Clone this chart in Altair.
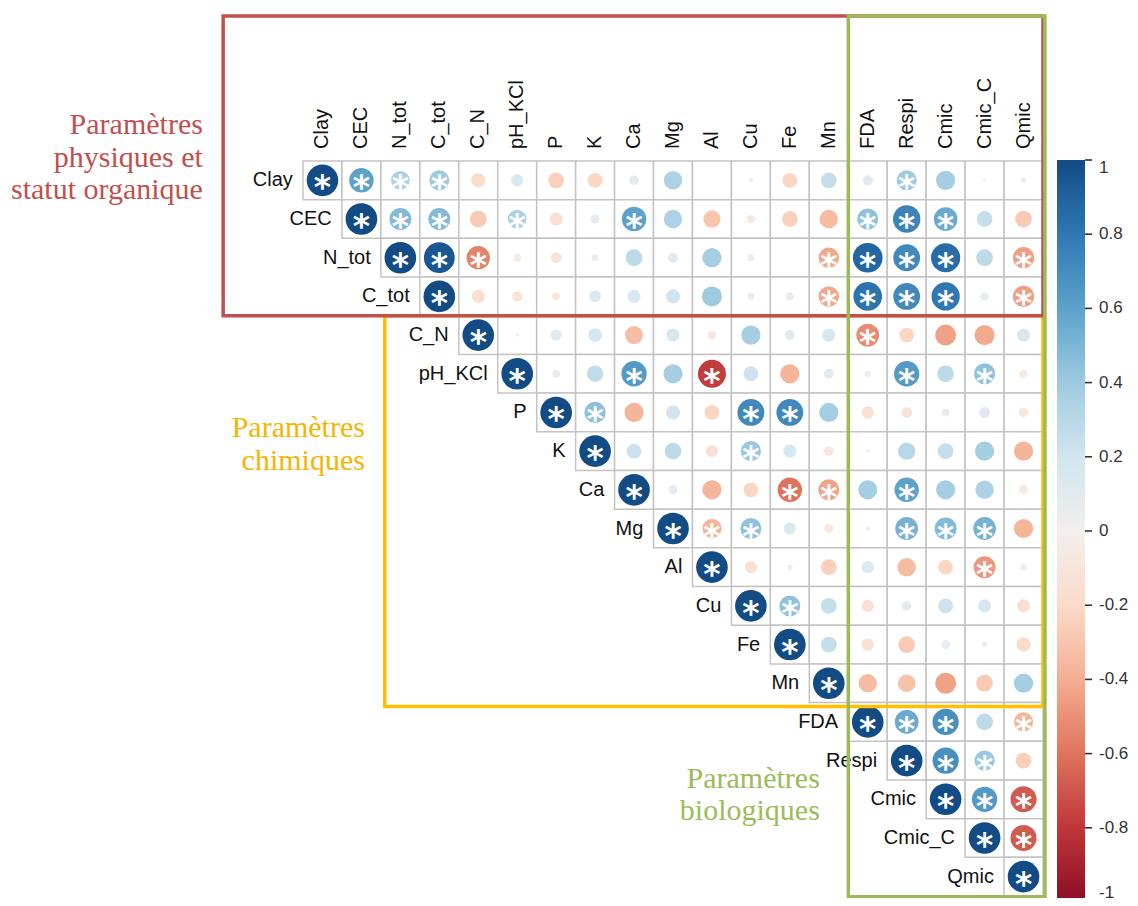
import altair as alt
import pandas as pd

names = ["Clay", "CEC", "N_tot", "C_tot", "C_N", "pH_KCl", "P", "K", "Ca", "Mg",
         "Al", "Cu", "Fe", "Mn", "FDA", "Respi", "Cmic", "Cmic_C", "Qmic"]

# Upper-triangle correlations: for each row, the values of the columns to the right of the diagonal
r_clay = [0.60, 0.35, 0.40, -0.20, 0.15, -0.25, -0.22, 0.09, 0.34, 0.00, 0.02, -0.22, 0.25, 0.11, 0.40, 0.37, 0.01, -0.03]
r_cec = [0.48, 0.48, -0.28, 0.35, -0.17, 0.08, 0.60, 0.34, -0.30, -0.07, -0.25, -0.34, 0.44, 0.75, 0.56, 0.25, -0.28]
r_ntot = [0.95, -0.55, -0.06, -0.12, 0.05, 0.28, 0.10, 0.37, 0.05, 0.00, -0.42, 0.88, 0.72, 0.85, 0.28, -0.45]
r_ctot = [-0.17, -0.11, -0.07, 0.14, 0.17, 0.20, 0.40, 0.05, 0.06, -0.42, 0.82, 0.72, 0.80, 0.07, -0.45]
r_cn = [0.01, 0.12, 0.19, -0.33, 0.17, -0.08, 0.37, 0.10, 0.17, -0.52, -0.22, -0.44, -0.41, 0.17]
r_ph = [0.06, 0.27, 0.64, 0.37, -0.78, 0.22, -0.37, 0.10, 0.04, 0.64, 0.28, 0.44, -0.06]
r_p = [0.45, -0.37, 0.20, -0.22, 0.72, 0.72, 0.37, -0.15, -0.12, 0.06, 0.12, -0.09]
r_k = [0.22, 0.28, -0.15, 0.41, 0.17, -0.09, 0.01, 0.30, 0.25, 0.37, -0.37]
r_ca = [0.08, -0.37, -0.22, -0.60, -0.44, 0.37, 0.60, 0.37, 0.34, -0.08]
r_mg = [-0.37, 0.44, 0.15, -0.08, 0.02, 0.52, 0.48, 0.52, -0.37]
r_al = [-0.15, -0.03, -0.25, 0.15, -0.34, -0.22, -0.48, 0.04]
r_cu = [0.44, 0.25, -0.15, 0.09, 0.22, 0.17, -0.17]
r_fe = [0.25, -0.15, -0.28, 0.08, 0.03, -0.20]
r_mn = [-0.34, -0.31, -0.44, -0.28, 0.37]
r_fda = [0.56, 0.69, 0.28, -0.37]
r_respi = [0.69, 0.41, -0.25]
r_cmic = [0.64, -0.68]
r_cmicc = [-0.68]

# Significance flags (1 = asterisk) in the same layout
s_clay = [1, 1, 1, 0, 0, 0, 0, 0, 0, 0, 0, 0, 0, 0, 1, 0, 0, 0]
s_cec = [1, 1, 0, 1, 0, 0, 1, 0, 0, 0, 0, 0, 1, 1, 1, 0, 0]
s_ntot = [1, 1, 0, 0, 0, 0, 0, 0, 0, 0, 1, 1, 1, 1, 0, 1]
s_ctot = [0, 0, 0, 0, 0, 0, 0, 0, 0, 1, 1, 1, 1, 0, 1]
s_cn = [0, 0, 0, 0, 0, 0, 0, 0, 0, 1, 0, 0, 0, 0]
s_ph = [0, 0, 1, 0, 1, 0, 0, 0, 0, 1, 0, 1, 0]
s_p = [1, 0, 0, 0, 1, 1, 0, 0, 0, 0, 0, 0]
s_k = [0, 0, 0, 1, 0, 0, 0, 0, 0, 0, 0]
s_ca = [0, 0, 0, 1, 1, 0, 1, 0, 0, 0]
s_mg = [1, 1, 0, 0, 0, 1, 1, 1, 0]
s_al = [0, 0, 0, 0, 0, 0, 1, 0]
s_cu = [1, 0, 0, 0, 0, 0, 0]
s_fe = [0, 0, 0, 0, 0, 0]
s_mn = [0, 0, 0, 0, 0]
s_fda = [1, 1, 0, 1]
s_respi = [1, 1, 0]
s_cmic = [1, 1]
s_cmicc = [1]

# Colour-bar tick values
bar_ticks = [1, 0.8, 0.6, 0.4, 0.2, 0, -0.2, -0.4, -0.6, -0.8, -1]

corr_rows = [r_clay, r_cec, r_ntot, r_ctot, r_cn, r_ph, r_p, r_k, r_ca, r_mg,
             r_al, r_cu, r_fe, r_mn, r_fda, r_respi, r_cmic, r_cmicc, []]
sig_rows = [s_clay, s_cec, s_ntot, s_ctot, s_cn, s_ph, s_p, s_k, s_ca, s_mg,
            s_al, s_cu, s_fe, s_mn, s_fda, s_respi, s_cmic, s_cmicc, []]

recs = []
for i, name in enumerate(names):
    recs.append({"row": i, "col": i, "r": 1.0, "sig": 1})
    for k, (v, s) in enumerate(zip(corr_rows[i], sig_rows[i])):
        recs.append({"row": i, "col": i + 1 + k, "r": v, "sig": s})
df = pd.DataFrame(recs)

lab = pd.DataFrame({"name": names, "idx": list(range(len(names)))})
ticks_df = pd.DataFrame({"v": bar_ticks})

# Layout constants
W, H = 740, 735
N = len(names)
CELL_W, CELL_H = W / N, H / N
BAR_X, BAR_Y, BAR_LEN, BAR_T = 754, -1, 742, 28

# Group boxes, in grid units
boxes = pd.DataFrame({
    "g": ["a_chim", "b_phys", "c_bio"],
    "x0": [1.6, -2.55, 13.5], "x1": [18.5, 18.5, 18.55],
    "y0": [3.5, -4.25, -4.25], "y1": [13.6, 3.5, 18.52],
    "c": ["#ffc000", "#c0504d", "#9bbb59"],
})
group_text = pd.DataFrame({
    "t": ["Paramètres", "physiques et", "statut organique",
          "Paramètres", "chimiques",
          "Paramètres", "biologiques"],
    "x": [-3.07, -3.07, -3.07, 1.09, 1.09, 12.77, 12.77],
    "y": [-1.42, -0.58, 0.24, 6.41, 7.25, 15.47, 16.29],
    "c": ["#c0504d"] * 3 + ["#f5b400"] * 2 + ["#9bbb59"] * 2,
})

dom = [-0.5, N - 0.5]
X = lambda f: alt.X(f, type="quantitative", scale=alt.Scale(domain=dom, nice=False, zero=False), axis=None)
Y = lambda f: alt.Y(f, type="quantitative", scale=alt.Scale(domain=dom, nice=False, zero=False, reverse=True), axis=None)

base = alt.Chart(df)

cells = base.transform_calculate(
    x0="datum.col - 0.5", x1="datum.col + 0.5", y0="datum.row - 0.5", y1="datum.row + 0.5"
).mark_rect(fill="white", stroke="#c3c3c3", strokeWidth=1.5).encode(
    x=X("x0"), x2="x1:Q", y=Y("y0"), y2="y1:Q"
)

circles = base.transform_calculate(absr="abs(datum.r)").mark_circle(opacity=1).encode(
    x=X("col"), y=Y("row"),
    size=alt.Size("absr:Q", scale=alt.Scale(domain=[0, 1], range=[0, 1000]), legend=None),
    color=alt.Color("r:Q", scale=alt.Scale(scheme="redblue", domain=[-1, 1]),
                    legend=alt.Legend(orient="none", legendX=BAR_X, legendY=BAR_Y, direction="vertical",
                                      gradientLength=BAR_LEN, gradientThickness=BAR_T, title=None,
                                      values=bar_ticks,
                                      labelExpr="'' + datum.value", labelFontSize=17,
                                      labelFont="Liberation Sans", labelColor="#333333",
                                      labelAlign="center", labelBaseline="middle", labelOffset=14,
                                      gradientStrokeWidth=0)),
)

# small tick marks on the right edge of the colour bar (converted to grid units)
bar_tick_marks = alt.Chart(ticks_df).transform_calculate(
    ty=f"({BAR_Y} + (1 - datum.v) / 2 * {BAR_LEN}) / {CELL_H} - 0.5",
    tx0=f"({BAR_X} + {BAR_T}) / {CELL_W} - 0.5",
    tx1=f"({BAR_X} + {BAR_T} + 7) / {CELL_W} - 0.5",
).mark_rule(color="#333333", strokeWidth=1.6).encode(
    x=X("tx0"), x2="tx1:Q", y=Y("ty"),
)

stars = base.transform_filter("datum.sig == 1").mark_text(
    text="*", color="white", font="DejaVu Sans", fontSize=33, fontWeight="bold",
    baseline="alphabetic", dy=19
).encode(x=X("col"), y=Y("row"))

row_labels = alt.Chart(lab).transform_calculate(lx="datum.idx - 0.76").mark_text(
    align="right", baseline="middle", font="Liberation Sans", fontSize=20, color="#111111"
).encode(x=X("lx"), y=Y("idx"), text="name:N")

col_labels = alt.Chart(lab).transform_calculate(ly="-0.81").mark_text(
    align="left", baseline="middle", angle=270, font="Liberation Sans", fontSize=20, color="#111111"
).encode(x=X("idx"), y=Y("ly"), text="name:N")

box_layer = alt.Chart(boxes).mark_rect(fillOpacity=0, strokeWidth=3.5).encode(
    x=X("x0"), x2="x1:Q", y=Y("y0"), y2="y1:Q",
    stroke=alt.Stroke("c:N", scale=None),
    order=alt.Order("g:N"),
)

gtext = alt.Chart(group_text).mark_text(
    align="right", baseline="middle", font="Liberation Serif", fontSize=30
).encode(x=X("x"), y=Y("y"), text="t:N", color=alt.Color("c:N", scale=None))

chart = alt.layer(cells, circles, stars, row_labels, col_labels, box_layer, gtext, bar_tick_marks).resolve_scale(
    color="independent"
).properties(
    width=W, height=H,
    padding={"left": 295, "top": 153, "right": 87, "bottom": 2},
    autosize=alt.AutoSizeParams(type="none"),
).configure_view(stroke=None)

chart.save("out.html", embed_options={"renderer": "svg", "actions": False})
